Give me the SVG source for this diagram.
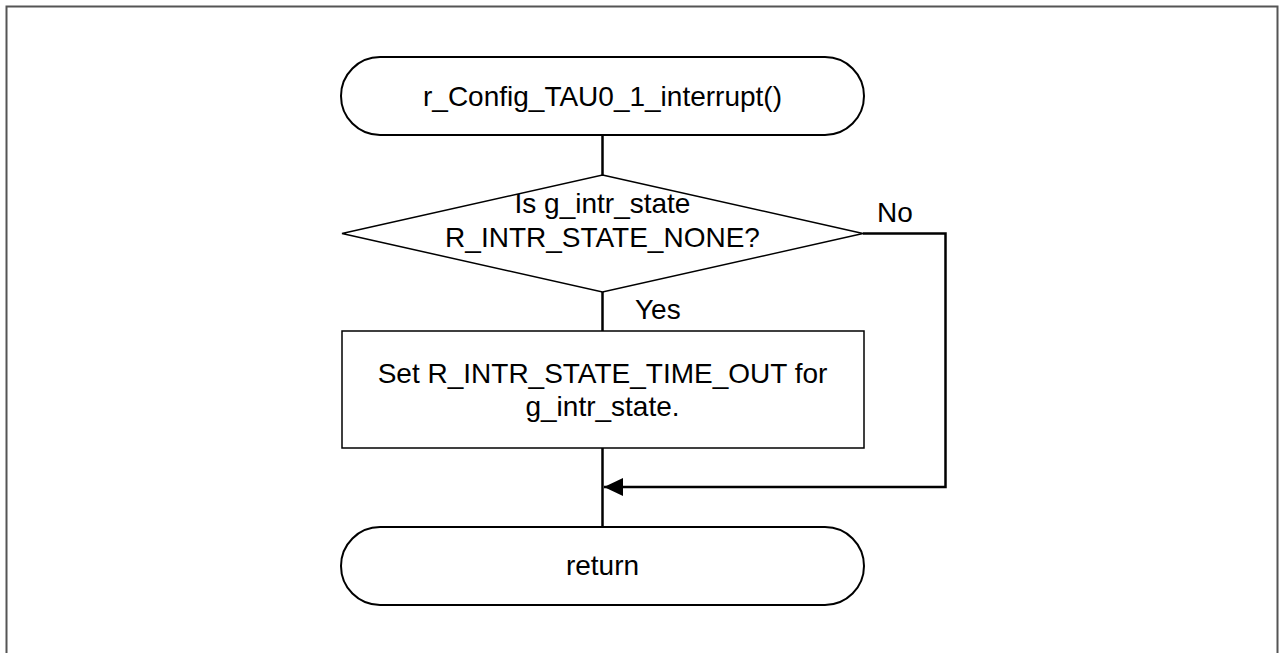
<svg xmlns="http://www.w3.org/2000/svg" width="1279" height="653" viewBox="0 0 1279 653">
<style>
text{font-family:"Liberation Sans",Arial,sans-serif;font-size:28px;fill:#000}
.c{text-anchor:middle}
.shape{fill:#fff;stroke:#000;stroke-width:1.5}
.term{fill:#fff;stroke:#000;stroke-width:2}
.conn{fill:none;stroke:#000;stroke-width:2.5}
</style>
<defs>
<marker id="arr" markerWidth="19" markerHeight="18" refX="19" refY="9" orient="auto" markerUnits="userSpaceOnUse">
<path d="M0,0 L19,9 L0,18 Z" fill="#000"/>
</marker>
</defs>
<rect width="1279" height="653" fill="#fff"/>
<path d="M6.5,660 V6.5 H1277.5 V660" fill="none" stroke="#555" stroke-width="2"/>
<g id="connectors">
<line class="conn" x1="602.5" y1="135" x2="602.5" y2="175"/>
<line class="conn" x1="602.5" y1="292" x2="602.5" y2="331"/>
<line class="conn" x1="602.5" y1="448" x2="602.5" y2="527"/>
<path class="conn" d="M863,233.5 H945.5 V487 H604" marker-end="url(#arr)"/>
<text x="877" y="222">No</text>
<text x="635" y="319">Yes</text>
</g>
<g id="start">
<rect class="term" x="341" y="57" width="523" height="78" rx="39" ry="39"/>
<text class="c" x="602.5" y="106">r_Config_TAU0_1_interrupt()</text>
</g>
<g id="decision">
<polygon class="shape" points="602.5,175 863,233.5 602.5,292 342,233.5"/>
<text class="c" x="602.5" y="213">Is g_intr_state</text>
<text class="c" x="602.5" y="247">R_INTR_STATE_NONE?</text>
</g>
<g id="process">
<rect class="shape" x="342" y="331" width="522" height="117"/>
<text class="c" x="602.5" y="383">Set R_INTR_STATE_TIME_OUT for</text>
<text class="c" x="602.5" y="416">g_intr_state.</text>
</g>
<g id="end">
<rect class="term" x="341" y="527" width="523" height="78" rx="39" ry="39"/>
<text class="c" x="602.5" y="575">return</text>
</g>
</svg>
